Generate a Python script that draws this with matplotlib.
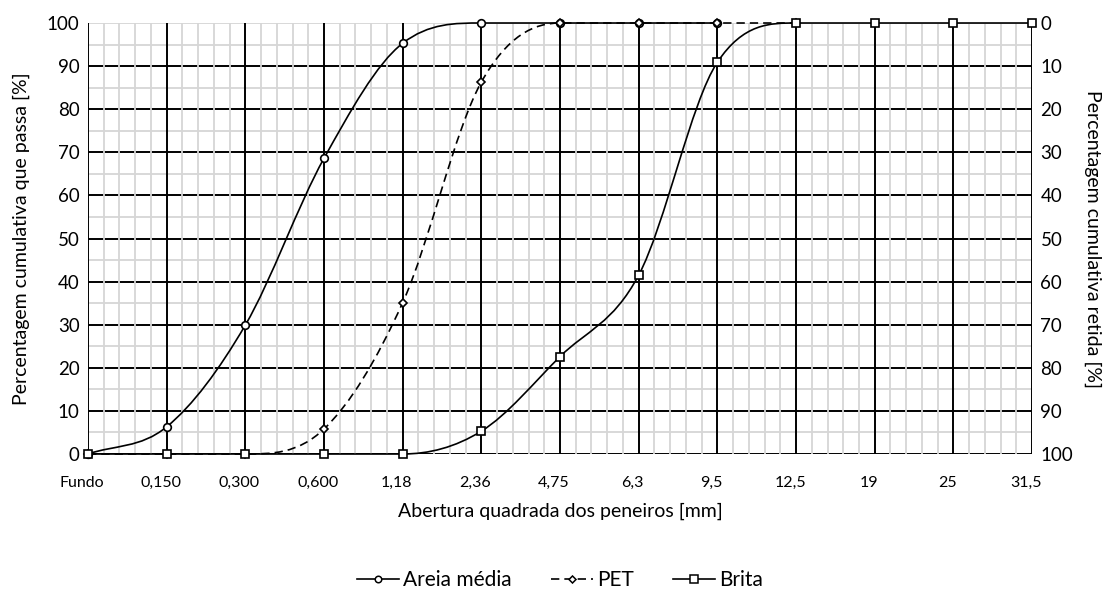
import numpy as np
import matplotlib.pyplot as plt
import matplotlib.transforms as mtransforms
from matplotlib.path import Path
from matplotlib.patches import PathPatch
from matplotlib.lines import Line2D

plt.rcParams['font.family'] = ['Lato', 'DejaVu Sans']

peneiros = ['Fundo', '0,150', '0,300', '0,600', '1,18', '2,36', '4,75',
            '6,3', '9,5', '12,5', '19', '25', '31,5']
areia = [0, 6.3, 29.9, 68.6, 95.3, 100, 100, 100, 100]
pet = [0, 0, 0, 5.8, 35.1, 86.3, 100, 100, 100, 100]
brita = [0, 0, 0, 0, 0, 5.3, 22.6, 41.5, 90.9, 100, 100, 100, 100]


def smooth_path(y):
    # smoothed line without overshoot: cubic bezier, clamped tangents
    y = np.asarray(y, dtype=float)
    n = len(y)
    d = np.diff(y)
    m = np.zeros(n)
    m[0], m[-1] = d[0], d[-1]
    for i in range(1, n - 1):
        if d[i - 1] * d[i] > 0:
            m[i] = min((d[i - 1] + d[i]) / 2,
                       3 * min(abs(d[i - 1]), abs(d[i])) * np.sign(d[i]))
    verts = [(0, y[0])]
    codes = [Path.MOVETO]
    for i in range(n - 1):
        verts += [(i + 1 / 3, y[i] + m[i] / 3),
                  (i + 2 / 3, y[i + 1] - m[i + 1] / 3),
                  (i + 1, y[i + 1])]
        codes += [Path.CURVE4] * 3
    return Path(verts, codes)


fig = plt.figure(figsize=(11.05, 5.9), dpi=100)
ax = fig.add_axes([0.0796, 0.2305, 0.8544, 0.7305])
ax.set_xlim(0, len(peneiros) - 1)
ax.set_ylim(0, 100)

# grid drawn by hand so the layering matches the original
grey = '#d6d6d6'
for v in np.arange(5, 100, 10):
    ax.axhline(v, color=grey, lw=1.3, zorder=1)
ax.axhline(100, color=grey, lw=1.3, zorder=1)
for v in range(0, 100, 10):
    ax.axhline(v, color='black', lw=1.4, zorder=2)
for v in np.arange(0, len(peneiros) - 1, 0.2):
    if abs(v - round(v)) > 1e-6:
        ax.axvline(v, color=grey, lw=1.3, zorder=3)
for v in range(len(peneiros)):
    ax.axvline(v, color='black', lw=1.4, zorder=4)

series = [
    (areia, 'Areia média', 'o', 5.5, '-'),
    (pet, 'PET', 'D', 4.2, (0, (5, 3))),
    (brita, 'Brita', 's', 6, '-'),
]
handles = []
for vals, name, mk, ms, ls in series:
    ax.add_patch(PathPatch(smooth_path(vals), fill=False, lw=1.2,
                           ec='black', ls=ls, zorder=5, clip_on=False))
    ax.plot(range(len(vals)), vals, ls='none', marker=mk, ms=ms, mfc='white',
            mec='black', mew=1.2, zorder=6, clip_on=False)
    handles.append(Line2D([], [], color='black', lw=1.2, ls=ls, marker=mk,
                          ms=ms * 0.85, mfc='white', mec='black', mew=1.1))

ax.set_xticks(range(len(peneiros)))
ax.set_xticklabels(peneiros)
ax.set_yticks(range(0, 101, 10))
ax.tick_params(axis='y', length=0, labelsize=13.5, pad=6)
ax.tick_params(axis='x', length=0, labelsize=11.5, pad=16)
for s in ax.spines.values():
    s.set_visible(False)
ax.set_xlabel('Abertura quadrada dos peneiros [mm]', fontsize=14, labelpad=9)
ax.set_ylabel('Percentagem cumulativa que passa [%]', fontsize=14, labelpad=12)

ax2 = ax.twinx()
ax2.set_ylim(100, 0)
ax2.set_yticks(range(0, 101, 10))
ax2.tick_params(axis='y', length=0, labelsize=13.5, pad=6)
for s in ax2.spines.values():
    s.set_visible(False)
ax2.set_ylabel('Percentagem cumulativa retida [%]', fontsize=14,
               rotation=270, labelpad=20)

# category labels sit a little left of their grid line in the original
shift = mtransforms.ScaledTranslation(-6 / 100, 0, fig.dpi_scale_trans)
for t in ax.xaxis.get_major_ticks():
    t.label1.set_transform(t.label1.get_transform() + shift)

fig.legend(handles, [s[1] for s in series], loc='center', ncol=3,
           bbox_to_anchor=(0.507, 0.017), frameon=False, fontsize=15,
           handlelength=2.0, handletextpad=0.2, columnspacing=1.9)

fig.savefig('out.png', dpi=100)
